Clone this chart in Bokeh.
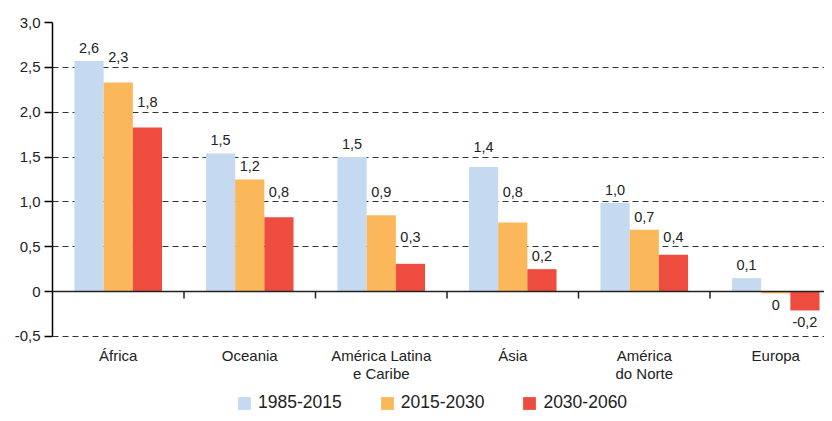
from bokeh.plotting import figure
from bokeh.models import (ColumnDataSource, Range1d, FixedTicker, Legend, LegendItem, Span)
from bokeh.embed import file_html
from bokeh.resources import INLINE

categories = ["África", "Oceania", "América Latina\ne Caribe", "Ásia", "América\ndo Norte", "Europa"]
series_names = ["1985-2015", "2015-2030", "2030-2060"]
v1985 = [2.57, 1.54, 1.50, 1.39, 0.99, 0.15]
v2015 = [2.33, 1.25, 0.85, 0.77, 0.69, -0.02]
v2030 = [1.83, 0.83, 0.31, 0.25, 0.41, -0.21]
l1985 = ["2,6", "1,5", "1,5", "1,4", "1,0", "0,1"]
l2015 = ["2,3", "1,2", "0,9", "0,8", "0,7", "0"]
l2030 = ["1,8", "0,8", "0,3", "0,2", "0,4", "-0,2"]
y_ticks = [-0.5, 0, 0.5, 1.0, 1.5, 2.0, 2.5, 3.0]
y_tick_labels = ["-0,5", "0", "0,5", "1,0", "1,5", "2,0", "2,5", "3,0"]

colors = ["#c5d9f0", "#fbb85b", "#ef4c40"]
FONT = "Liberation Sans"
TXT = "#222222"

n = len(categories)
centers = [i + 0.5 for i in range(n)]
boundaries = [i for i in range(1, n)]
y_min, y_max = y_ticks[0], y_ticks[-1]
grid_vals = [t for t in y_ticks if t != 0]

W, H = 824, 413
LEFT, TOP = 52, 22
PX_PER_UNIT = 89.7
FRAME_H = H - TOP
p = figure(width=W, height=H, output_backend="svg", toolbar_location=None,
           x_range=Range1d(0, (W - LEFT) / 131.5),
           y_range=Range1d(y_max - FRAME_H / PX_PER_UNIT, y_max),
           min_border_left=LEFT, min_border_right=0, min_border_top=TOP,
           min_border_bottom=0)
p.outline_line_color = None
p.background_fill_color = "white"

# y axis
p.yaxis.ticker = FixedTicker(ticks=y_ticks)
p.yaxis.bounds = (y_min, y_max)
p.yaxis.major_label_overrides = {t: l for t, l in zip(y_ticks, y_tick_labels)}
p.yaxis.major_tick_out = 8
p.yaxis.major_tick_in = 0
p.yaxis.minor_tick_out = 0
p.yaxis.minor_tick_in = 0
p.yaxis.axis_line_color = "black"
p.yaxis.axis_line_width = 1.5
p.yaxis.major_tick_line_color = "black"
p.yaxis.major_tick_line_width = 1.5
p.yaxis.major_label_text_font = FONT
p.yaxis.major_label_text_font_size = "15px"
p.yaxis.major_label_text_color = TXT
p.yaxis.major_label_standoff = 4

p.xaxis.visible = False

# grid
p.xgrid.grid_line_color = None
p.ygrid.ticker = FixedTicker(ticks=grid_vals)
p.ygrid.grid_line_color = "#333333"
p.ygrid.grid_line_dash = "6 4"
p.ygrid.grid_line_width = 1

# category labels under the plot area
cat_src = ColumnDataSource(dict(x=centers, y=[y_min] * n, lab=categories))
p.text(x="x", y="y", text="lab", source=cat_src, y_offset=11,
       text_align="center", text_baseline="top", text_line_height=1.05,
       text_font={"value": FONT}, text_font_size={"value": "15px"}, text_color=TXT)

SHIFT = 4  # rendered baseline sits this much lower than requested


def label_offset(v):
    """Screen offset of a value label: just above the bar, lifted over a gridline it would cross."""
    if v < 0:
        return 7
    h = v * PX_PER_UNIT
    b = h + 9 + SHIFT
    for g in grid_vals:
        gp = g * PX_PER_UNIT
        vis = b - SHIFT
        if vis - 2 <= gp <= vis + 12:
            b = gp + 6 + SHIFT
    return -(b - h)


# bars
offsets = [-0.222, 0.0, 0.222]
width = 0.222
vals = [v1985, v2015, v2030]
labs = [l1985, l2015, l2030]
renderers = []
for k in range(3):
    xs = [c + offsets[k] for c in centers]
    src = ColumnDataSource(dict(x=xs, top=vals[k], lab=labs[k],
                                yo=[label_offset(v) for v in vals[k]],
                                base=["alphabetic" if v >= 0 else "top" for v in vals[k]]))
    r = p.vbar(x="x", top="top", bottom=0, width=width, source=src,
               fill_color=colors[k], line_color=None)
    renderers.append(r)
    p.text(x="x", y="top", text="lab", source=src, y_offset="yo",
           text_align="center", text_baseline="base",
           text_font={"value": FONT}, text_font_size={"value": "14.5px"},
           text_color=TXT)

# zero line and category separator ticks
p.add_layout(Span(location=0, dimension="width", line_color="#222222", line_width=1.5))
p.ray(x=boundaries, y=[0] * len(boundaries), length=7, length_units="screen",
      angle=-1.5708, line_color="#222222", line_width=1.5)

legend = Legend(items=[LegendItem(label=series_names[k], renderers=[renderers[k]]) for k in range(3)],
                orientation="horizontal", location=(184, 0),
                label_text_font=FONT, label_text_font_size="17.5px", label_text_color=TXT,
                glyph_width=16, glyph_height=16, label_standoff=6, spacing=37,
                padding=0, margin=0, border_line_color=None, background_fill_alpha=0)
p.add_layout(legend, "center")

open("out.html", "w").write(file_html(p, INLINE))
